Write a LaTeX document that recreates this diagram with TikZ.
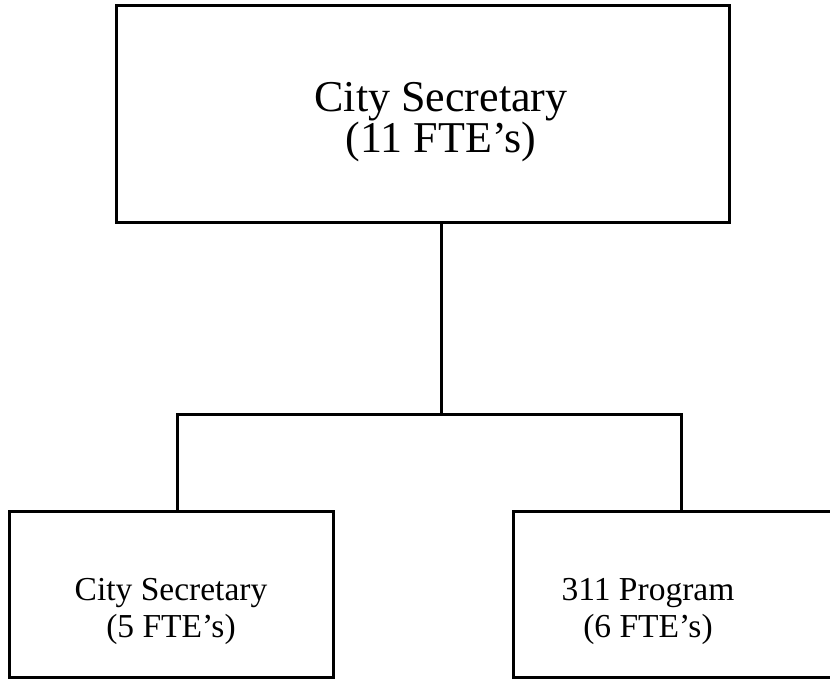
\documentclass[tikz,border=0pt]{standalone}
\usepackage{fontspec}
\setmainfont{Liberation Serif}
\begin{document}
\begin{tikzpicture}[x=1pt,y=-1pt,
  orgbox/.style={draw=black,line width=3pt,rectangle,inner sep=0pt},
  wire/.style={draw=black,line width=3pt},
  bigtext/.style={font=\fontsize{44}{41}\selectfont,align=center,inner sep=0pt},
  smalltext/.style={font=\fontsize{33.5}{37}\selectfont,align=center,inner sep=0pt}]
\useasboundingbox (0,0) rectangle (830,679);
% top-level office
\node[orgbox,minimum width=613pt,minimum height=217pt] (top) at (422.5,114.5) {};
\node[bigtext] (toptext) at (441,122) {City Secretary\\(11 FTE's)};
% divisions
\node[orgbox,minimum width=324pt,minimum height=166pt] (left) at (171,594) {};
\node[smalltext] (lefttext) at (171,611) {City Secretary\\(5 FTE's)};
\node[orgbox,minimum width=330pt,minimum height=166pt] (right) at (678,594) {};
\node[smalltext] (righttext) at (648,611) {311 Program\\(6 FTE's)};
% connectors
\coordinate (hub) at (441,414);
\coordinate (lhub) at (177,414);
\coordinate (rhub) at (681,414);
\draw[wire] (top.south -| hub) -- (hub);
\draw[wire,line cap=rect] (lhub) -- (rhub);
\draw[wire] (lhub) -- (left.north -| lhub);
\draw[wire] (rhub) -- (right.north -| rhub);
\end{tikzpicture}
\end{document}
